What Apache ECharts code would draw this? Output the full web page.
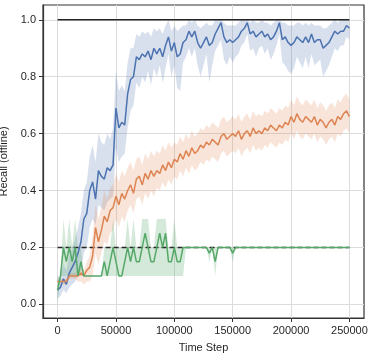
<!DOCTYPE html>
<html>
	<head>
		<meta charset="UTF-8">
		<title>Recall (offline)</title>
		<script type="text/javascript" src="https://cdn.jsdelivr.net/npm/echarts@6/dist/echarts.min.js"></script>
		<style>
			body { margin: 0; background: #fff; }
			#chart { width: 374px; height: 357px; }
		</style>
	</head>
	<body>
		<div id="chart"></div>
	<script>
		// evaluation every 2500 steps
		var steps = [];
		for (var s = 0; s <= 250000; s += 2500) steps.push(s);

		var xTicks = [0, 50000, 100000, 150000, 200000, 250000];
		var yTicks = [0, 0.2, 0.4, 0.6, 0.8, 1.0];

		var blueMean = [
			0.05,0.06,0.09,0.07,0.11,0.13,0.15,0.18,0.22,0.30,
			0.32,0.40,0.43,0.37,0.47,0.45,0.44,0.48,0.47,0.49,
			0.69,0.62,0.64,0.63,0.74,0.79,0.80,0.87,0.86,0.88,
			0.87,0.89,0.86,0.90,0.88,0.90,0.87,0.91,0.94,0.89,
			0.92,0.87,0.88,0.92,0.93,0.96,0.94,0.96,0.92,0.90,
			0.92,0.94,0.91,0.92,0.95,0.97,0.99,0.94,0.92,0.93,
			0.92,0.93,0.94,0.96,0.97,0.99,0.95,0.96,0.94,0.95,
			0.96,0.94,0.95,0.93,0.94,0.96,0.99,0.93,0.94,0.92,
			0.91,0.92,0.94,0.93,0.92,0.94,0.92,0.95,0.92,0.93,
			0.93,0.90,0.91,0.92,0.94,0.96,0.95,0.96,0.96,0.98,
			0.97];
		var blueLow = [
			0.02,0.03,0.05,0.04,0.06,0.07,0.08,0.10,0.12,0.18,
			0.20,0.27,0.30,0.28,0.35,0.34,0.33,0.36,0.37,0.38,
			0.55,0.50,0.52,0.53,0.62,0.68,0.70,0.78,0.76,0.80,
			0.78,0.82,0.77,0.83,0.80,0.84,0.78,0.83,0.88,0.80,
			0.84,0.76,0.75,0.85,0.87,0.90,0.87,0.90,0.84,0.80,
			0.84,0.88,0.78,0.84,0.89,0.91,0.93,0.86,0.84,0.87,
			0.85,0.87,0.88,0.91,0.92,0.95,0.89,0.90,0.87,0.90,
			0.91,0.88,0.90,0.86,0.88,0.91,0.95,0.85,0.84,0.82,
			0.81,0.83,0.87,0.85,0.83,0.87,0.83,0.88,0.84,0.85,
			0.86,0.80,0.82,0.84,0.87,0.90,0.89,0.91,0.91,0.94,
			0.93];
		var blueHigh = [
			0.09,0.10,0.14,0.12,0.17,0.20,0.23,0.27,0.32,0.40,
			0.43,0.52,0.56,0.50,0.60,0.57,0.56,0.60,0.58,0.62,
			0.82,0.75,0.77,0.75,0.85,0.90,0.90,0.95,0.94,0.96,
			0.95,0.96,0.94,0.97,0.96,0.97,0.95,0.98,1.00,0.96,
			0.98,0.96,0.97,0.98,0.98,1.00,0.99,1.00,0.98,0.97,
			0.98,0.99,0.98,0.98,1.00,1.00,1.00,0.99,0.98,0.98,
			0.98,0.98,0.99,1.00,1.00,1.00,0.99,1.00,0.99,0.99,
			1.00,0.99,0.99,0.98,0.99,1.00,1.00,0.99,0.99,0.98,
			0.98,0.98,0.99,0.99,0.98,0.99,0.98,0.99,0.98,0.98,
			0.98,0.97,0.97,0.98,0.99,1.00,0.99,1.00,1.00,1.00,
			1.00];

		var orangeMean = [
			0.08,0.08,0.08,0.08,0.10,0.10,0.10,0.10,0.11,0.10,
			0.12,0.13,0.17,0.27,0.22,0.26,0.31,0.29,0.33,0.34,
			0.38,0.35,0.39,0.37,0.40,0.42,0.39,0.44,0.45,0.42,
			0.46,0.44,0.47,0.45,0.47,0.46,0.49,0.47,0.50,0.48,
			0.51,0.50,0.53,0.51,0.54,0.52,0.55,0.53,0.54,0.56,
			0.55,0.57,0.56,0.58,0.57,0.56,0.59,0.60,0.58,0.59,
			0.60,0.59,0.61,0.58,0.60,0.61,0.59,0.62,0.60,0.61,
			0.60,0.62,0.61,0.63,0.62,0.61,0.63,0.62,0.64,0.63,
			0.66,0.64,0.67,0.65,0.64,0.66,0.65,0.64,0.66,0.63,
			0.65,0.64,0.62,0.64,0.65,0.63,0.66,0.65,0.67,0.68,
			0.66];
		var orangeLow = [
			0.07,0.07,0.07,0.07,0.09,0.09,0.09,0.08,0.08,0.07,
			0.08,0.08,0.10,0.18,0.14,0.18,0.22,0.21,0.25,0.26,
			0.30,0.27,0.31,0.29,0.33,0.35,0.32,0.37,0.38,0.35,
			0.39,0.37,0.40,0.38,0.41,0.40,0.43,0.41,0.44,0.42,
			0.45,0.44,0.47,0.45,0.48,0.46,0.49,0.47,0.48,0.50,
			0.49,0.51,0.50,0.52,0.51,0.50,0.53,0.54,0.52,0.53,
			0.54,0.53,0.55,0.52,0.54,0.55,0.53,0.56,0.54,0.55,
			0.54,0.56,0.55,0.57,0.56,0.55,0.57,0.56,0.58,0.57,
			0.60,0.58,0.61,0.59,0.58,0.60,0.59,0.58,0.60,0.57,
			0.59,0.58,0.56,0.58,0.59,0.57,0.60,0.59,0.61,0.62,
			0.60];
		var orangeHigh = [
			0.09,0.09,0.09,0.09,0.11,0.11,0.11,0.12,0.13,0.12,
			0.15,0.17,0.24,0.35,0.30,0.34,0.40,0.37,0.41,0.42,
			0.46,0.43,0.47,0.45,0.48,0.50,0.47,0.51,0.52,0.49,
			0.53,0.51,0.54,0.52,0.54,0.53,0.56,0.54,0.57,0.55,
			0.57,0.56,0.59,0.57,0.60,0.58,0.61,0.59,0.60,0.62,
			0.61,0.63,0.62,0.64,0.63,0.62,0.65,0.66,0.64,0.65,
			0.66,0.65,0.67,0.64,0.66,0.67,0.65,0.68,0.66,0.67,
			0.66,0.68,0.67,0.69,0.68,0.67,0.69,0.68,0.70,0.69,
			0.72,0.70,0.73,0.71,0.70,0.72,0.71,0.70,0.72,0.69,
			0.71,0.70,0.68,0.70,0.71,0.69,0.72,0.71,0.73,0.74,
			0.72];

		var greenMean = [
			0.05,0.10,0.20,0.15,0.20,0.15,0.20,0.10,0.15,0.10,
			0.10,0.10,0.10,0.10,0.10,0.10,0.15,0.10,0.15,0.20,
			0.15,0.10,0.10,0.15,0.20,0.15,0.20,0.15,0.15,0.20,
			0.25,0.20,0.15,0.15,0.20,0.25,0.20,0.25,0.15,0.15,
			0.20,0.15,0.15,0.20,0.20,0.20,0.20,0.20,0.20,0.20,
			0.20,0.20,0.18,0.20,0.15,0.20,0.20,0.20,0.20,0.20,
			0.18,0.20,0.20,0.20,0.20,0.20,0.20,0.20,0.20,0.20,
			0.20,0.20,0.20,0.20,0.20,0.20,0.20,0.20,0.20,0.20,
			0.20,0.20,0.20,0.20,0.20,0.20,0.20,0.20,0.20,0.20,
			0.20,0.20,0.20,0.20,0.20,0.20,0.20,0.20,0.20,0.20,
			0.20];
		var greenLow = [
			0.00,0.10,0.10,0.10,0.10,0.10,0.10,0.10,0.10,0.10,
			0.10,0.10,0.10,0.10,0.10,0.10,0.10,0.10,0.10,0.10,
			0.10,0.10,0.10,0.10,0.10,0.10,0.10,0.10,0.10,0.10,
			0.10,0.10,0.10,0.10,0.10,0.10,0.10,0.10,0.10,0.10,
			0.10,0.10,0.10,0.10,0.20,0.20,0.20,0.20,0.20,0.20,
			0.20,0.20,0.15,0.20,0.10,0.20,0.20,0.20,0.20,0.20,
			0.15,0.20,0.20,0.20,0.20,0.20,0.20,0.20,0.20,0.20,
			0.20,0.20,0.20,0.20,0.20,0.20,0.20,0.20,0.20,0.20,
			0.20,0.20,0.20,0.20,0.20,0.20,0.20,0.20,0.20,0.20,
			0.20,0.20,0.20,0.20,0.20,0.20,0.20,0.20,0.20,0.20,
			0.20];
		var greenHigh = [
			0.10,0.10,0.30,0.20,0.30,0.20,0.30,0.20,0.20,0.10,
			0.10,0.10,0.10,0.10,0.10,0.10,0.20,0.20,0.20,0.30,
			0.20,0.20,0.20,0.20,0.30,0.20,0.30,0.20,0.20,0.30,
			0.30,0.30,0.20,0.20,0.30,0.30,0.30,0.30,0.20,0.20,
			0.30,0.20,0.20,0.20,0.20,0.20,0.20,0.20,0.20,0.20,
			0.20,0.20,0.20,0.20,0.20,0.20,0.20,0.20,0.20,0.20,
			0.20,0.20,0.20,0.20,0.20,0.20,0.20,0.20,0.20,0.20,
			0.20,0.20,0.20,0.20,0.20,0.20,0.20,0.20,0.20,0.20,
			0.20,0.20,0.20,0.20,0.20,0.20,0.20,0.20,0.20,0.20,
			0.20,0.20,0.20,0.20,0.20,0.20,0.20,0.20,0.20,0.20,
			0.20];

		var optimalLevel = 1.0;
		var baselineLevel = 0.2;

		function pairs(ys) {
			var out = [];
			for (var i = 0; i < steps.length; i++) out.push([steps[i], ys[i]]);
			return out;
		}

		// shaded band between lo and hi, drawn as one polygon through the axis scales
		function bandSeries(lo, hi, fill) {
			var data = [];
			for (var i = 0; i < steps.length; i++) data.push([steps[i], lo[i], hi[i]]);
			return {
				type: 'custom', silent: true, data: data,
				encode: { x: 0, y: [1, 2] },
				renderItem: function (params, api) {
					if (params.dataIndex !== 0) return;
					var pts = [];
					for (var i = 0; i < data.length; i++) pts.push(api.coord([data[i][0], data[i][2]]));
					for (var j = data.length - 1; j >= 0; j--) pts.push(api.coord([data[j][0], data[j][1]]));
					return { type: 'polygon', shape: { points: pts }, style: { fill: fill, stroke: null } };
				}
			};
		}
		function meanSeries(ys, color) {
			return {
				type: 'line', data: pairs(ys), symbol: 'none',
				lineStyle: { color: color, width: 1.5 }
			};
		}

		var series = [];
		series.push({
			type: 'line', data: [[0, optimalLevel], [250000, optimalLevel]], symbol: 'none',
			lineStyle: { color: '#262626', width: 1.5 }
		});
		series.push({
			type: 'line', data: [[0, baselineLevel], [250000, baselineLevel]], symbol: 'none',
			lineStyle: { color: '#262626', width: 1.5, type: [5, 3] }
		});
		series.push(bandSeries(blueLow, blueHigh, 'rgba(76,114,176,0.22)'));
		series.push(meanSeries(blueMean, '#4c72b0'));
		series.push(bandSeries(orangeLow, orangeHigh, 'rgba(221,132,82,0.22)'));
		series.push(meanSeries(orangeMean, '#dd8452'));
		series.push(bandSeries(greenLow, greenHigh, 'rgba(85,168,104,0.25)'));
		series.push(meanSeries(greenMean, '#55a868'));

		var textStyle = { fontFamily: 'Liberation Sans', fontSize: 11, color: '#262626' };

		var option = {
			animation: false,
			backgroundColor: '#ffffff',
			grid: {
				left: 43, right: 10, top: 5, bottom: 39,
				containLabel: false, outerBoundsMode: 'none',
				show: true, borderColor: '#333333', borderWidth: 1.2, backgroundColor: 'transparent'
			},
			xAxis: {
				type: 'value', min: -12500, max: 262500,
				name: 'Time Step', nameLocation: 'middle', nameGap: 24,
				nameTextStyle: textStyle,
				axisLine: { show: true, onZero: false, lineStyle: { color: '#333333', width: 1.2 } },
				axisTick: { show: true, length: 4, customValues: xTicks, lineStyle: { color: '#333333', width: 1 } },
				axisLabel: { customValues: xTicks, margin: 7, fontFamily: 'Liberation Sans', fontSize: 11, color: '#262626',
					formatter: function (v) { return String(v); } },
				splitLine: { show: true, lineStyle: { color: '#dcdcdc', width: 1 } }
			},
			yAxis: {
				type: 'value', min: -0.048, max: 1.052,
				name: 'Recall (offline)', nameLocation: 'middle', nameGap: 26,
				nameTextStyle: textStyle,
				axisLine: { show: true, onZero: false, lineStyle: { color: '#333333', width: 1.2 } },
				axisTick: { show: true, length: 4, customValues: yTicks, lineStyle: { color: '#333333', width: 1 } },
				axisLabel: { customValues: yTicks, margin: 7, fontFamily: 'Liberation Sans', fontSize: 11, color: '#262626',
					formatter: function (v) { return v.toFixed(1); } },
				splitLine: { show: true, lineStyle: { color: '#dcdcdc', width: 1 } }
			},
			series: series
		};

		var chart = echarts.init(document.getElementById('chart'), null, { renderer: 'canvas' });
		chart.setOption(option);
	</script>
	</body>
</html>
